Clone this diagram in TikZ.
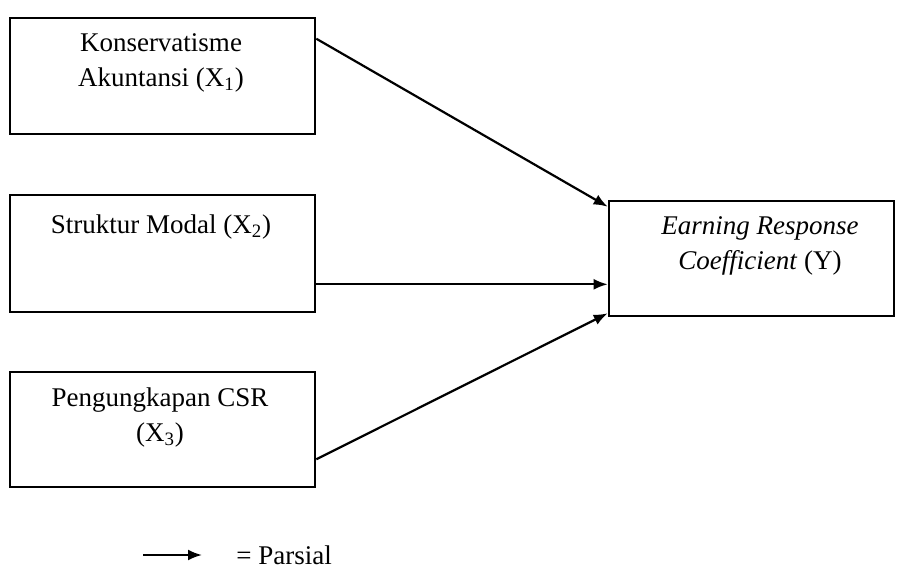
\documentclass[tikz,border=0pt]{standalone}
\usepackage{fontspec}
\setmainfont{Liberation Serif}
\usepackage{tikz}
\usetikzlibrary{arrows.meta, shapes}

\begin{document}
\begin{tikzpicture}[x=0.5pt, y=-0.5pt]
            \useasboundingbox (0,0) rectangle (902,575);
            \begin{scope}[every node/.style={rectangle, draw, line width=1.3pt, inner sep=0pt}]
                \node[minimum width=152.5pt, minimum height=58pt] (X1) at (162.5,76) {};
                \node[minimum width=152.5pt, minimum height=58.5pt] (X2) at (162.5,253.5) {};
                \node[minimum width=152.5pt, minimum height=57.5pt] (X3) at (162.5,429.5) {};
                \node[minimum width=142.5pt, minimum height=57.5pt] (Y) at (751.5,258.5) {};
            \end{scope}

            \begin{scope}[every node/.style={align=center, inner sep=0pt,
                          font=\fontsize{13.5}{17.5}\selectfont}]
                \node (X1text) at (161,62.5) {Konservatisme\\Akuntansi (X\textsubscript{1})};
                \node (X2text) at (161,227) {Struktur Modal (X\textsubscript{2})};
                \node (X3text) at (160,417) {Pengungkapan CSR\\(X\textsubscript{3})};
                \node (Ytext) at (760,246) {\textit{Earning Response}\\\textit{Coefficient} (Y)};
                \node[anchor=west] (parsial) at (236,555) {= Parsial};
            \end{scope}
            \coordinate (legend) at (143,555);

            \begin{scope}[>={Latex[length=7pt, width=5.5pt]},
                          every edge/.style={draw=black, line width=1.1pt}]
                 \path[->] ([yshift=-11pt]X1.north east) edge ([yshift=-3.5pt]Y.north west);
                 \path[->] ([yshift=14.5pt]X2.south east) edge ([yshift=16.5pt]Y.south west);
                 \path[->] ([yshift=14.5pt]X3.south east) edge ([yshift=2pt]Y.south west);
                 \path[->] (legend) edge ([xshift=-17pt]parsial.west);
            \end{scope}
\end{tikzpicture}
\end{document}
